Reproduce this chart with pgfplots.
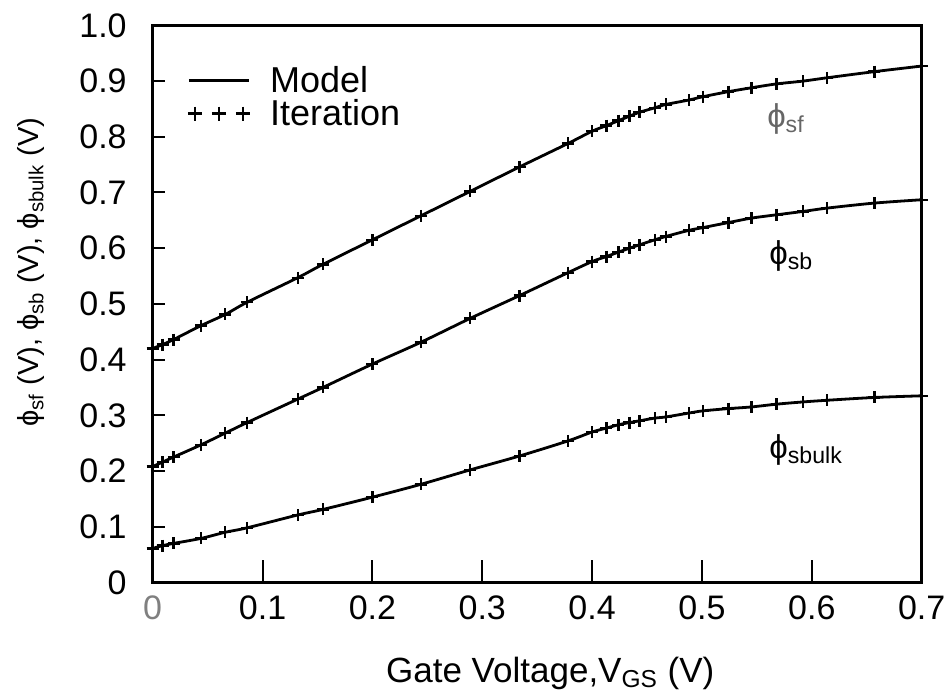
\documentclass[border=0pt]{standalone}
\usepackage{pgfplots}
\pgfplotsset{compat=1.18}
\usepackage{pgfplotstable}
\usepackage{fontspec}
\setmainfont{Liberation Sans}
\newcommand{\sub}[1]{\textsubscript{#1}}

\pgfplotstableread{
x      sf     sb     sbulk
0.000  0.420  0.208  0.061
0.009  0.427  0.216  0.066
0.019  0.436  0.225  0.070
0.044  0.461  0.247  0.079
0.066  0.481  0.268  0.090
0.086  0.503  0.287  0.098
0.132  0.547  0.329  0.121
0.155  0.571  0.350  0.131
0.200  0.615  0.392  0.153
0.244  0.658  0.431  0.176
0.289  0.702  0.474  0.202
0.334  0.746  0.515  0.227
0.378  0.788  0.556  0.254
0.400  0.810  0.576  0.270
0.413  0.820  0.585  0.277
0.424  0.829  0.593  0.283
0.434  0.837  0.600  0.287
0.443  0.844  0.606  0.290
0.457  0.852  0.615  0.295
0.467  0.858  0.621  0.297
0.488  0.866  0.632  0.304
0.501  0.872  0.637  0.308
0.524  0.881  0.646  0.312
0.545  0.888  0.654  0.315
0.568  0.895  0.660  0.320
0.592  0.900  0.666  0.324
0.614  0.906  0.672  0.327
0.657  0.917  0.681  0.332
0.700  0.927  0.687  0.335
}\data

\begin{document}
\begin{tikzpicture}
\begin{axis}[
  scale only axis,
  width=384.5pt, height=278.5pt,
  xmin=0, xmax=0.7, ymin=0, ymax=1.0,
  xtick={0,0.1,0.2,0.3,0.4,0.5,0.6,0.7},
  xticklabels={\textcolor{gray}{0},0.1,0.2,0.3,0.4,0.5,0.6,0.7},
  ytick={0,0.1,0.2,0.3,0.4,0.5,0.6,0.7,0.8,0.9,1.0},
  yticklabels={0,0.1,0.2,0.3,0.4,0.5,0.6,0.7,0.8,0.9,1.0},
  xtick pos=bottom, ytick pos=left,
  tick align=inside,
  major tick length=6pt,
  tick style={draw=black, line width=1pt},
  axis line style={line width=1.2pt},
  clip=false,
  ticklabel style={font=\fontsize{17}{19}\selectfont},
  xticklabel style={yshift=-3pt},
  yticklabel style={xshift=-9.5pt},
  xlabel={Gate Voltage,V\sub{GS} (V)},
  ylabel={ϕ\sub{sf} (V), ϕ\sub{sb} (V), ϕ\sub{sbulk} (V)},
  label style={font=\fontsize{17.5}{19}\selectfont},
  xlabel style={at={(axis description cs:0.517,-0.163)}, anchor=center},
  ylabel style={at={(axis description cs:-0.158,0.557)}, anchor=center, font=\fontsize{14.5}{16}\selectfont},
  legend style={draw=none, fill=none, at={(0.045,0.935)}, anchor=north west,
    font=\fontsize{18}{20}\selectfont, row sep=-2pt, column sep=8pt, inner sep=0pt},
  legend cell align=left,
]
\addlegendimage{legend image code/.code={\draw[line width=1.2pt] (0pt,0pt) -- (30pt,0pt);}}
\addlegendentry{Model}
\addlegendimage{legend image code/.code={\draw[line width=1.2pt, mark=+, mark size=3.5pt, only marks] plot coordinates {(3pt,0pt) (15pt,0pt) (27pt,0pt)};}}
\addlegendentry{Iteration}

% inward tick strokes drawn as short line segments along the axes
\addplot[black, line width=1pt, forget plot] coordinates {(0.1,0) (0.1,0.04)};
\addplot[black, line width=1pt, forget plot] coordinates {(0.2,0) (0.2,0.04)};
\addplot[black, line width=1pt, forget plot] coordinates {(0.3,0) (0.3,0.04)};
\addplot[black, line width=1pt, forget plot] coordinates {(0.4,0) (0.4,0.04)};
\addplot[black, line width=1pt, forget plot] coordinates {(0.5,0) (0.5,0.04)};
\addplot[black, line width=1pt, forget plot] coordinates {(0.6,0) (0.6,0.04)};
\addplot[black, line width=1pt, forget plot] table {
x y
0 0.1
0.009 0.1

0 0.2
0.009 0.2

0 0.3
0.009 0.3

0 0.4
0.009 0.4

0 0.5
0.009 0.5

0 0.6
0.009 0.6

0 0.7
0.009 0.7

0 0.8
0.009 0.8

0 0.9
0.009 0.9
};

\addplot[black, line width=1.4pt, smooth, mark=+, mark size=3pt, mark options={line width=1.2pt}, forget plot] table[x=x, y=sf] {\data};
\addplot[black, line width=1.4pt, smooth, mark=+, mark size=3pt, mark options={line width=1.2pt}, forget plot] table[x=x, y=sb] {\data};
\addplot[black, line width=1.4pt, smooth, mark=+, mark size=3pt, mark options={line width=1.2pt}, forget plot] table[x=x, y=sbulk] {\data};

\node[anchor=west, font=\fontsize{16.5}{18}\selectfont, text=gray!80!black] at (axis cs:0.553,0.832) {ϕ\sub{sf}};
\node[anchor=west, font=\fontsize{16.5}{18}\selectfont] at (axis cs:0.555,0.586) {ϕ\sub{sb}};
\node[anchor=west, font=\fontsize{16.5}{18}\selectfont] at (axis cs:0.555,0.238) {ϕ\sub{sbulk}};
\end{axis}
\pgfresetboundingbox
\path[use as bounding box] ([xshift=-76.35pt,yshift=-54.3pt]current axis.south west) rectangle ([xshift=398.65pt,yshift=291.2pt]current axis.south west);
\end{tikzpicture}
\end{document}
